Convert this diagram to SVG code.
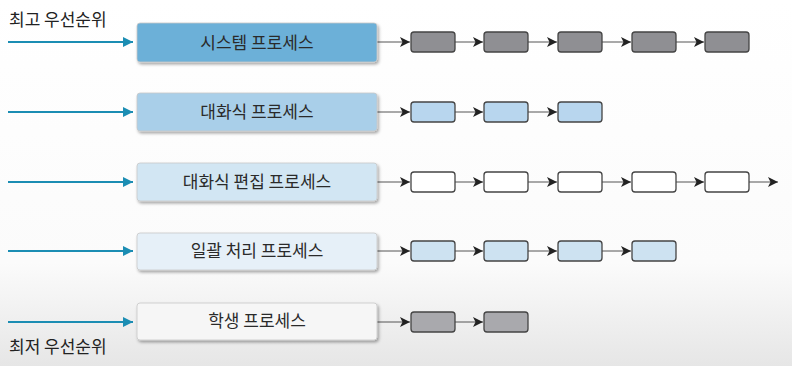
<svg xmlns="http://www.w3.org/2000/svg" width="792" height="366" viewBox="0 0 792 366">
<defs>
<linearGradient id="bg" x1="0" y1="0" x2="0" y2="1">
<stop offset="0" stop-color="#ffffff"/>
<stop offset="0.72" stop-color="#fbfbfb"/>
<stop offset="1" stop-color="#e6e6e6"/>
</linearGradient>
<filter id="sh" x="-5%" y="-20%" width="112%" height="150%">
<feDropShadow dx="1.5" dy="2" stdDeviation="1.5" flood-color="#000" flood-opacity="0.35"/>
</filter>
<marker id="blue" viewBox="0 0 10 10" refX="10" refY="5" markerWidth="10" markerHeight="10" markerUnits="userSpaceOnUse" orient="auto">
<path d="M0,0 L10,5 L0,10 Z" fill="#1b8db3"/>
</marker>
<marker id="blk" viewBox="0 0 10 10" refX="10" refY="5" markerWidth="10" markerHeight="10" markerUnits="userSpaceOnUse" orient="auto">
<path d="M0,0 L10,5 L0,10 L2.5,5 Z" fill="#222"/>
</marker>
</defs>
<style>
.lbl{font-family:"Noto Sans CJK KR","Noto Sans",sans-serif;font-size:17px;fill:#222}
.big{stroke:#c8c8c8;stroke-width:0.8;filter:url(#sh)}
.sm{stroke:#444;stroke-width:1.3}
.bl{stroke:#1b8db3;stroke-width:2;fill:none;marker-end:url(#blue)}
.ln{stroke:#555;stroke-width:1;fill:none;marker-end:url(#blk)}
.t{font-family:"Noto Sans CJK KR","Noto Sans",sans-serif;font-size:17px;fill:#2a2a2a;text-anchor:middle}
</style>
<rect width="792" height="366" fill="url(#bg)"/>
<text class="lbl" x="9" y="26">최고 우선순위</text>
<text class="lbl" x="9" y="353">최저 우선순위</text>
<g id="connectors">
<path class="bl" d="M8,42 H133"/>
<path class="bl" d="M8,112 H133"/>
<path class="bl" d="M8,182 H133"/>
<path class="bl" d="M8,251 H133"/>
<path class="bl" d="M8,322 H133"/>
<path class="ln" d="M377,42 H410"/>
<path class="ln" d="M455,42 H483"/>
<path class="ln" d="M528,42 H557"/>
<path class="ln" d="M602,42 H631"/>
<path class="ln" d="M676,42 H704"/>
<path class="ln" d="M377,112 H410"/>
<path class="ln" d="M455,112 H483"/>
<path class="ln" d="M528,112 H557"/>
<path class="ln" d="M377,182 H410"/>
<path class="ln" d="M455,182 H483"/>
<path class="ln" d="M528,182 H557"/>
<path class="ln" d="M602,182 H631"/>
<path class="ln" d="M676,182 H704"/>
<path class="ln" d="M749,182 H778"/>
<path class="ln" d="M377,251 H410"/>
<path class="ln" d="M455,251 H483"/>
<path class="ln" d="M528,251 H557"/>
<path class="ln" d="M602,251 H631"/>
<path class="ln" d="M377,322 H410"/>
<path class="ln" d="M455,322 H483"/>
</g>
<g id="system">
<rect class="big" x="137" y="23" width="240" height="39" rx="3" fill="#6cb0d8"/>
<text class="t" x="257" y="48.5">시스템 프로세스</text>
</g>
<g id="dialog">
<rect class="big" x="137" y="93" width="240" height="38" rx="3" fill="#a9cfe9"/>
<text class="t" x="257" y="118">대화식 프로세스</text>
</g>
<g id="edit">
<rect class="big" x="137" y="163" width="240" height="38" rx="3" fill="#d2e6f3"/>
<text class="t" x="257" y="188">대화식 편집 프로세스</text>
</g>
<g id="batch">
<rect class="big" x="137" y="233" width="240" height="37" rx="3" fill="#e6f0f8"/>
<text class="t" x="257" y="257">일괄 처리 프로세스</text>
</g>
<g id="student">
<rect class="big" x="137" y="303" width="240" height="37" rx="3" fill="#f6f6f6"/>
<text class="t" x="257" y="327">학생 프로세스</text>
</g>
<g id="q1">
<rect class="sm" x="411" y="32" width="44" height="20" rx="3" fill="#8f8f93"/>
<rect class="sm" x="484" y="32" width="44" height="20" rx="3" fill="#8f8f93"/>
<rect class="sm" x="558" y="32" width="44" height="20" rx="3" fill="#8f8f93"/>
<rect class="sm" x="632" y="32" width="44" height="20" rx="3" fill="#8f8f93"/>
<rect class="sm" x="705" y="32" width="44" height="20" rx="3" fill="#8f8f93"/>
</g>
<g id="q2">
<rect class="sm" x="411" y="102" width="44" height="20" rx="3" fill="#b8d6ee"/>
<rect class="sm" x="484" y="102" width="44" height="20" rx="3" fill="#b8d6ee"/>
<rect class="sm" x="558" y="102" width="44" height="20" rx="3" fill="#b8d6ee"/>
</g>
<g id="q3">
<rect class="sm" x="411" y="172" width="44" height="20" rx="3" fill="#ffffff"/>
<rect class="sm" x="484" y="172" width="44" height="20" rx="3" fill="#ffffff"/>
<rect class="sm" x="558" y="172" width="44" height="20" rx="3" fill="#ffffff"/>
<rect class="sm" x="632" y="172" width="44" height="20" rx="3" fill="#ffffff"/>
<rect class="sm" x="705" y="172" width="44" height="20" rx="3" fill="#ffffff"/>
</g>
<g id="q4">
<rect class="sm" x="411" y="241" width="44" height="20" rx="3" fill="#cde2f1"/>
<rect class="sm" x="484" y="241" width="44" height="20" rx="3" fill="#cde2f1"/>
<rect class="sm" x="558" y="241" width="44" height="20" rx="3" fill="#cde2f1"/>
<rect class="sm" x="632" y="241" width="44" height="20" rx="3" fill="#cde2f1"/>
</g>
<g id="q5">
<rect class="sm" x="411" y="312" width="44" height="20" rx="3" fill="#a9a9ad"/>
<rect class="sm" x="484" y="312" width="44" height="20" rx="3" fill="#a9a9ad"/>
</g>
</svg>
